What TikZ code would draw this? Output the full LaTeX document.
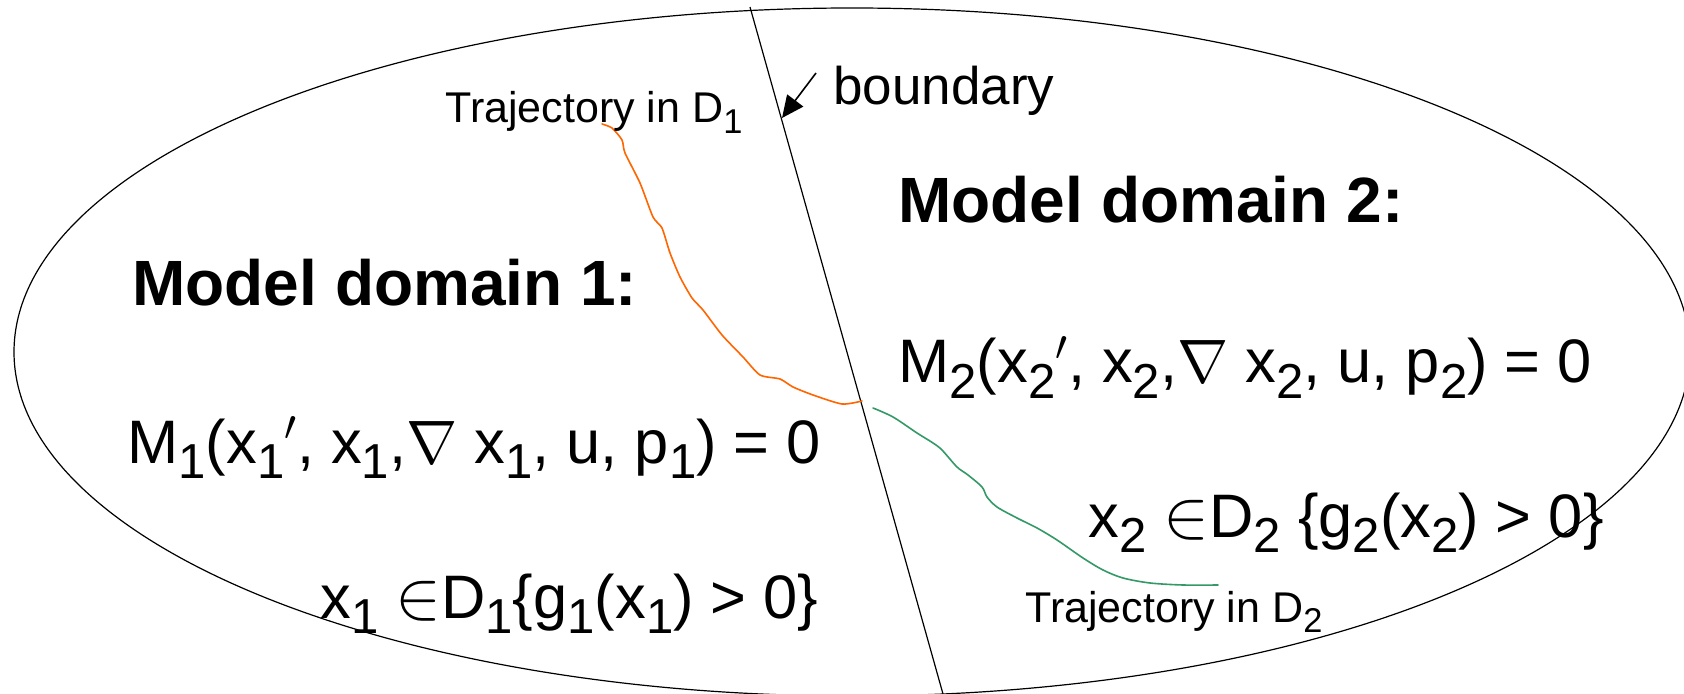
\RequirePackage{fix-cm}
\documentclass[tikz,border=0pt]{standalone}
\usepackage{fontspec}
\setmainfont{Liberation Sans}
\usepackage{graphicx}
\usetikzlibrary{arrows.meta}
\newcommand{\dn}[1]{\raisebox{-0.25em}{\scalebox{0.8}{#1}}}
\newcommand{\pr}{${}^{\prime}$}
\newcommand{\elem}{\scalebox{1.12}{$\in$}}
\definecolor{trajorange}{HTML}{FF6600}
\definecolor{trajgreen}{HTML}{339966}
\begin{document}
\begin{tikzpicture}[x=0.5pt,y=-0.5pt,
  big/.style={font=\fontsize{30.7}{36}\selectfont, anchor=base west, inner sep=0pt},
  bigb/.style={font=\fontsize{32}{36}\selectfont\bfseries, anchor=base west, inner sep=0pt},
  small/.style={font=\fontsize{21.5}{24}\selectfont, anchor=base west, inner sep=0pt},
  mid/.style={font=\fontsize{26.5}{30}\selectfont, anchor=base west, inner sep=0pt},
  outline/.style={line width=0.6pt, black},
  traj/.style={line width=0.8pt, line join=round, line cap=round}]
\useasboundingbox (0,0) rectangle (1684,694);
\clip (0,0) rectangle (1684,694);
\fill[white] (0,0) rectangle (1684,694);
% domain outline
\draw[outline] (852,352) ellipse [x radius=419pt, y radius=172pt];
% boundary
\coordinate (btop) at (750,7);
\coordinate (bbot) at (943,694);
\draw[outline] (btop) -- (bbot);
% boundary label and arrow
\node[mid] (bd) at (833,105) {boundary};
\coordinate (atail) at (816,73);
\coordinate (atip) at (782,118);
\draw[line width=0.8pt, -{Triangle[length=11pt,width=10pt]}] (atail) -- (atip);
% trajectories
\draw[traj, trajorange] plot[smooth, tension=0.4] coordinates {(602,124) (612,128) (622,140) (625,153) (640,183) (653,217) (662,228) (670,253) (680,277) (692,298) (703,310) (722,335) (743,357) (760,375) (780,379) (793,387) (813,395) (842,404) (862,401)};
\draw[traj, trajgreen] plot[smooth, tension=0.5] coordinates {(873,408) (893,417) (917,433) (933,443) (942,450) (957,467) (968,475) (982,487) (987,497) (997,507) (1017,518) (1037,528) (1057,540) (1083,558) (1103,570) (1123,578) (1150,583) (1183,585) (1218,585)};
% texts
\node[small] (t1) at (445,123) {Trajectory in D\dn{1}};
\node[small] (t2) at (1025,622) {Trajectory in D\dn{2}};
\node[bigb] (md2) at (898,223) {Model domain 2:};
\node[bigb] (md1) at (132,306) {Model domain 1:};
\node[big] (m2) at (898,383) {M\dn{2}(x\dn{2}\pr, x\dn{2},$\nabla$ x\dn{2}, u, p\dn{2}) = 0};
\node[big] (m1) at (127,463) {M\dn{1}(x\dn{1}\pr, x\dn{1},$\nabla$ x\dn{1}, u, p\dn{1}) = 0};
\node[big] (g2) at (1088,537) {x\dn{2} \elem D\dn{2} \{g\dn{2}(x\dn{2}) > 0\}};
\node[big] (g1) at (320,618) {x\dn{1} \elem D\dn{1}\{g\dn{1}(x\dn{1}) > 0\}};
\end{tikzpicture}
\end{document}
